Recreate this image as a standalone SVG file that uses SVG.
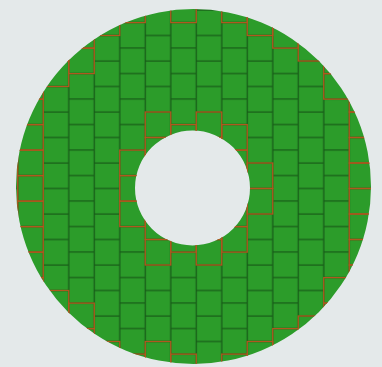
<svg xmlns="http://www.w3.org/2000/svg" width="382" height="367" viewBox="0 0 382 367">
<style>
.cut{fill:none;stroke:#b0581f;stroke-width:1.3}
</style>
<defs>
<pattern id="brk" patternUnits="userSpaceOnUse" x="12.75" y="5" width="51" height="25.5">
<rect width="51" height="25.5" fill="#2c9c2a"/>
<path d="M5 0V25.5M30.5 0V25.5M5 17.6H30.5M30.5 5H51M0 5H5" stroke="#175c18" stroke-width="1.3" fill="none"/>
</pattern>
<clipPath id="ring">
<path clip-rule="evenodd" d="M16 186.5A177.5 177.5 0 1 0 371 186.5A177.5 177.5 0 1 0 16 186.5ZM135 188A57.5 57.5 0 1 0 250 188A57.5 57.5 0 1 0 135 188Z"/>
</clipPath>
</defs>
<rect width="382" height="367" fill="#e4e9ea"/>
<g id="ring-paving">
<path fill="url(#brk)" fill-rule="evenodd" d="M16 186.5A177.5 177.5 0 1 0 371 186.5A177.5 177.5 0 1 0 16 186.5ZM135 188A57.5 57.5 0 1 0 250 188A57.5 57.5 0 1 0 135 188Z"/>
</g>
<g id="cut-bricks" clip-path="url(#ring)">
<g transform="translate(17.75 0)">
<rect class="cut" y="73.6" width="25.5" height="25.5"/><rect class="cut" y="99.1" width="25.5" height="25.5"/><rect class="cut" y="124.6" width="25.5" height="25.5"/><rect class="cut" y="150.1" width="25.5" height="25.5"/><rect class="cut" y="175.6" width="25.5" height="25.5"/><rect class="cut" y="201.1" width="25.5" height="25.5"/><rect class="cut" y="226.6" width="25.5" height="25.5"/><rect class="cut" y="252.1" width="25.5" height="25.5"/><rect class="cut" y="277.6" width="25.5" height="25.5"/>
</g>
<g transform="translate(43.25 0)">
<rect class="cut" y="35.5" width="25.5" height="25.5"/><rect class="cut" y="61" width="25.5" height="25.5"/><rect class="cut" y="290.5" width="25.5" height="25.5"/>
</g>
<g transform="translate(68.75 0)">
<rect class="cut" y="22.6" width="25.5" height="25.5"/><rect class="cut" y="48.1" width="25.5" height="25.5"/><rect class="cut" y="303.1" width="25.5" height="25.5"/><rect class="cut" y="328.6" width="25.5" height="25.5"/>
</g>
<g transform="translate(94.25 0)">
<rect class="cut" y="10" width="25.5" height="25.5"/><rect class="cut" y="341.5" width="25.5" height="25.5"/>
</g>
<g transform="translate(119.75 0)">
<rect class="cut" y="-2.9" width="25.5" height="25.5"/><rect class="cut" y="150.1" width="25.5" height="25.5"/><rect class="cut" y="175.6" width="25.5" height="25.5"/><rect class="cut" y="201.1" width="25.5" height="25.5"/><rect class="cut" y="354.1" width="25.5" height="25.5"/>
</g>
<g transform="translate(145.25 0)">
<rect class="cut" y="112" width="25.5" height="25.5"/><rect class="cut" y="137.5" width="25.5" height="25.5"/><rect class="cut" y="163" width="25.5" height="25.5"/><rect class="cut" y="188.5" width="25.5" height="25.5"/><rect class="cut" y="214" width="25.5" height="25.5"/><rect class="cut" y="239.5" width="25.5" height="25.5"/><rect class="cut" y="341.5" width="25.5" height="25.5"/>
</g>
<g transform="translate(170.75 0)">
<rect class="cut" y="-2.9" width="25.5" height="25.5"/><rect class="cut" y="124.6" width="25.5" height="25.5"/><rect class="cut" y="150.1" width="25.5" height="25.5"/><rect class="cut" y="175.6" width="25.5" height="25.5"/><rect class="cut" y="201.1" width="25.5" height="25.5"/><rect class="cut" y="226.6" width="25.5" height="25.5"/><rect class="cut" y="354.1" width="25.5" height="25.5"/>
</g>
<g transform="translate(196.25 0)">
<rect class="cut" y="112" width="25.5" height="25.5"/><rect class="cut" y="137.5" width="25.5" height="25.5"/><rect class="cut" y="163" width="25.5" height="25.5"/><rect class="cut" y="188.5" width="25.5" height="25.5"/><rect class="cut" y="214" width="25.5" height="25.5"/><rect class="cut" y="239.5" width="25.5" height="25.5"/>
</g>
<g transform="translate(221.75 0)">
<rect class="cut" y="-2.9" width="25.5" height="25.5"/><rect class="cut" y="124.6" width="25.5" height="25.5"/><rect class="cut" y="150.1" width="25.5" height="25.5"/><rect class="cut" y="175.6" width="25.5" height="25.5"/><rect class="cut" y="201.1" width="25.5" height="25.5"/><rect class="cut" y="226.6" width="25.5" height="25.5"/><rect class="cut" y="354.1" width="25.5" height="25.5"/>
</g>
<g transform="translate(247.25 0)">
<rect class="cut" y="10" width="25.5" height="25.5"/><rect class="cut" y="163" width="25.5" height="25.5"/><rect class="cut" y="188.5" width="25.5" height="25.5"/><rect class="cut" y="341.5" width="25.5" height="25.5"/>
</g>
<g transform="translate(272.75 0)">
<rect class="cut" y="22.6" width="25.5" height="25.5"/><rect class="cut" y="328.6" width="25.5" height="25.5"/>
</g>
<g transform="translate(298.25 0)">
<rect class="cut" y="35.5" width="25.5" height="25.5"/><rect class="cut" y="316" width="25.5" height="25.5"/>
</g>
<g transform="translate(323.75 0)">
<rect class="cut" y="48.1" width="25.5" height="25.5"/><rect class="cut" y="73.6" width="25.5" height="25.5"/><rect class="cut" y="277.6" width="25.5" height="25.5"/><rect class="cut" y="303.1" width="25.5" height="25.5"/>
</g>
<g transform="translate(349.25 0)">
<rect class="cut" y="86.5" width="25.5" height="25.5"/><rect class="cut" y="112" width="25.5" height="25.5"/><rect class="cut" y="137.5" width="25.5" height="25.5"/><rect class="cut" y="163" width="25.5" height="25.5"/><rect class="cut" y="188.5" width="25.5" height="25.5"/><rect class="cut" y="214" width="25.5" height="25.5"/><rect class="cut" y="239.5" width="25.5" height="25.5"/><rect class="cut" y="265" width="25.5" height="25.5"/>
</g>
</g>
</svg>
